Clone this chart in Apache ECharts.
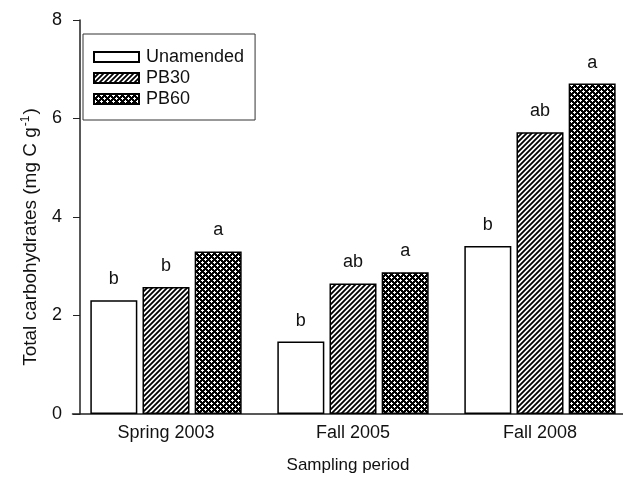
<!DOCTYPE html>
<html>
<head>
<meta charset="utf-8">
<script src="https://cdn.jsdelivr.net/npm/echarts@6/dist/echarts.min.js"></script>
<style>
  html, body { margin: 0; padding: 0; background: #fff; }
  #chart { width: 623px; height: 477px; }
</style>
</head>
<body>
<div id="chart"></div>
<script>
// data
const periods = ['Spring 2003', 'Fall 2005', 'Fall 2008'];
const unamended = [2.31, 1.47, 3.41];
const pb30 = [2.58, 2.65, 5.72];
const pb60 = [3.30, 2.88, 6.71];
const unamendedLetters = ['b', 'b', 'b'];
const pb30Letters = ['b', 'ab', 'ab'];
const pb60Letters = ['a', 'a', 'a'];
const yTicks = [0, 2, 4, 6, 8];

const font = 'Liberation Sans, Arial, sans-serif';
const ink = '#111';

// hatch fill for PB30
function hatch() {
  const s = 5;
  const c = document.createElement('canvas');
  c.width = s; c.height = s;
  const g = c.getContext('2d');
  g.fillStyle = '#fff';
  g.fillRect(0, 0, s, s);
  g.strokeStyle = '#000';
  g.lineWidth = 1.8;
  g.beginPath();
  g.moveTo(-1, s + 1); g.lineTo(s + 1, -1);
  g.moveTo(-1, 1); g.lineTo(1, -1);
  g.moveTo(s - 1, s + 1); g.lineTo(s + 1, s - 1);
  g.stroke();
  return c;
}

// dense dark fill for PB60
function check() {
  const s = 6;
  const c = document.createElement('canvas');
  c.width = s; c.height = s;
  const g = c.getContext('2d');
  g.fillStyle = '#000';
  g.fillRect(0, 0, s, s);
  g.fillStyle = '#fff';
  g.fillRect(0, 1, 3, 1);
  g.fillRect(3, 4, 3, 1);
  g.fillRect(1, 0, 1, 3);
  g.fillRect(4, 3, 1, 3);
  return c;
}

function letterLabel(letters) {
  return {
    show: true,
    position: 'top',
    distance: 12,
    fontFamily: font,
    fontSize: 18,
    color: ink,
    formatter: p => letters[p.dataIndex]
  };
}

function barSeries(name, values, letters, fill) {
  return {
    name: name,
    type: 'bar',
    barWidth: 47,
    barGap: '11%',
    data: values,
    itemStyle: { color: fill, borderColor: '#000', borderWidth: 1.5 },
    label: letterLabel(letters),
    emphasis: { disabled: true }
  };
}

const chart = echarts.init(document.getElementById('chart'));
chart.setOption({
  animation: false,
  grid: { left: 72.5, width: 561, top: 20, bottom: 63, outerBoundsMode: 'none' },
  legend: {
    orient: 'vertical',
    left: 83,
    top: 34,
    padding: [14, 11, 12, 10],
    borderColor: '#333',
    borderWidth: 1,
    icon: 'rect',
    itemWidth: 45,
    itemHeight: 10,
    itemGap: 3,
    textStyle: { fontFamily: font, fontSize: 18, color: ink, lineHeight: 18, padding: [0, 0, 0, 2] },
    data: ['Unamended', 'PB30', 'PB60']
  },
  xAxis: {
    type: 'category',
    data: periods,
    name: 'Sampling period',
    nameLocation: 'middle',
    nameGap: 43,
    nameTextStyle: { fontFamily: font, fontSize: 17, color: ink, padding: [0, 10, 0, 0] },
    axisLine: { lineStyle: { color: '#222', width: 1.5 } },
    axisTick: { alignWithLabel: true, length: 5, lineStyle: { color: '#222' } },
    axisLabel: { fontFamily: font, fontSize: 18, color: ink, margin: 10 }
  },
  yAxis: {
    type: 'value',
    min: yTicks[0],
    max: yTicks[yTicks.length - 1],
    interval: 2,
    offset: -7.5,
    name: '{t|Total carbohydrates (mg C g}{s|-1}{t|)}',
    nameLocation: 'middle',
    nameGap: 38,
    nameTextStyle: {
      padding: [0, 40, 0, 0],
      rich: {
        t: { fontFamily: font, fontSize: 19, color: ink },
        s: { fontFamily: font, fontSize: 12, color: ink, verticalAlign: 'top', padding: [0, 1, 10, 1] }
      }
    },
    splitLine: { show: false },
    axisLine: { show: true, lineStyle: { color: '#222', width: 1.5 } },
    axisTick: { show: true, length: 7, lineStyle: { color: '#222' } },
    axisLabel: { fontFamily: font, fontSize: 18, color: ink, margin: 18 }
  },
  series: [
    barSeries('Unamended', unamended, unamendedLetters, '#fff'),
    barSeries('PB30', pb30, pb30Letters, { image: hatch(), repeat: 'repeat' }),
    barSeries('PB60', pb60, pb60Letters, { image: check(), repeat: 'repeat' })
  ]
});
</script>
</body>
</html>
